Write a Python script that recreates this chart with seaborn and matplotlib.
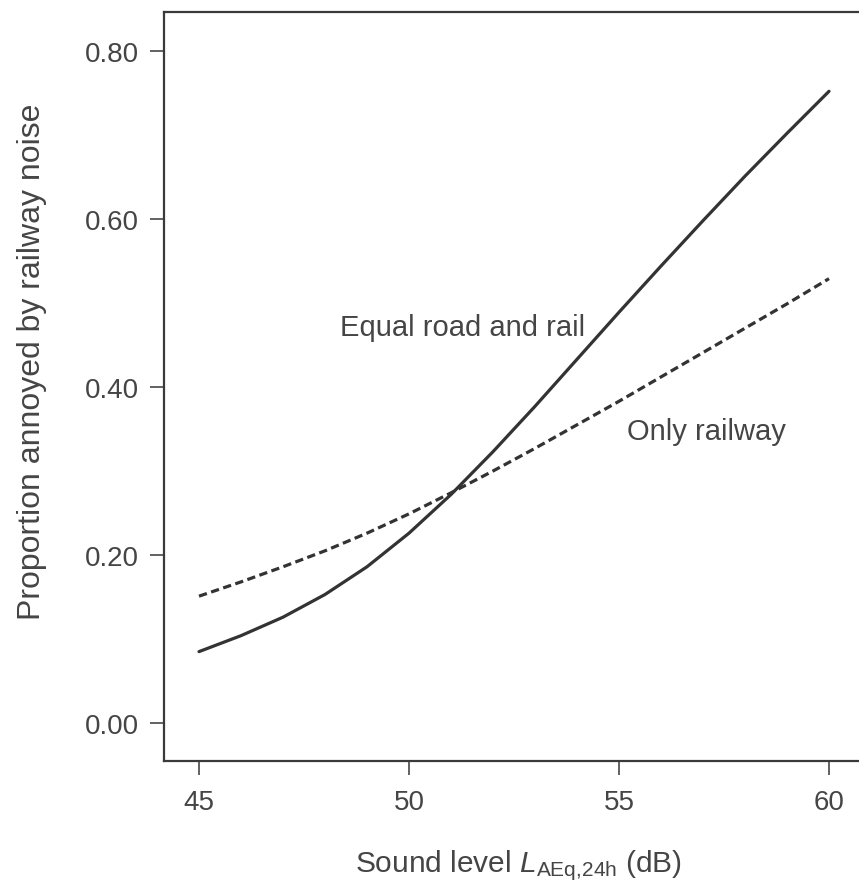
import numpy as np
import pandas as pd
import matplotlib
matplotlib.use("Agg")
import matplotlib.pyplot as plt
import seaborn as sns

# Sound level (dB) at which each curve is sampled
levels = [45, 46, 47, 48, 49, 50, 51, 52, 53, 54, 55, 56, 57, 58, 59, 60]

# Proportion annoyed: equal road and rail exposure
equal_road_rail = [0.085, 0.104, 0.126, 0.153, 0.186, 0.226, 0.272, 0.323,
                   0.377, 0.433, 0.489, 0.544, 0.598, 0.651, 0.702, 0.752]

# Proportion annoyed: railway noise only
only_railway = [0.151, 0.168, 0.186, 0.205, 0.226, 0.249, 0.274, 0.300,
                0.327, 0.355, 0.383, 0.412, 0.441, 0.470, 0.499, 0.529]

group_names = ["Equal road and rail", "Only railway"]
y_ticks = [0.00, 0.20, 0.40, 0.60, 0.80]
x_ticks = [45, 50, 55, 60]

df = pd.DataFrame({
    "level": levels * 2,
    "prop": equal_road_rail + only_railway,
    "group": [group_names[0]] * len(levels) + [group_names[1]] * len(levels),
})

sns.set_theme(style="ticks")
plt.rcParams["font.family"] = ["Liberation Sans", "DejaVu Sans"]
plt.rcParams["mathtext.fontset"] = "custom"
plt.rcParams["mathtext.rm"] = "Liberation Sans"
plt.rcParams["mathtext.it"] = "Liberation Sans:italic"

text_col = "#454545"
line_col = "#333333"

fig = plt.figure(figsize=(8.59, 8.87), dpi=100)
ax = fig.add_axes([164 / 859, 1 - 762 / 887, 1 - 164 / 859, 749 / 887])

sns.lineplot(
    data=df, x="level", y="prop", style="group",
    dashes={group_names[0]: "", group_names[1]: (2.6, 1.4)},
    color=line_col, linewidth=2.3, legend=False, ax=ax,
)

ax.set_xlim(44.1667, 60.714)
ax.set_ylim(-0.0452, 0.8464)
ax.set_xticks(x_ticks)
ax.set_xticklabels([str(v) for v in x_ticks])
ax.set_yticks(y_ticks)
ax.set_yticklabels([f"{v:.2f}" for v in y_ticks])

for side in ["left", "top", "bottom"]:
    ax.spines[side].set_visible(True)
    ax.spines[side].set_color("#3a3a3a")
    ax.spines[side].set_linewidth(1.6)
ax.spines["right"].set_visible(False)

ax.tick_params(axis="both", length=10, width=1.3, color="#555555",
               labelsize=20, labelcolor=text_col)
ax.tick_params(axis="y", pad=8)
ax.tick_params(axis="x", pad=10)

ax.set_xlabel(r"Sound level $\mathit{L}_{\mathrm{AEq{,}24h}}$ (dB)",
              fontsize=21.5, color=text_col)
ax.set_ylabel("Proportion annoyed by railway noise", fontsize=23, color=text_col)
ax.xaxis.set_label_coords(0.51, -0.116)
ax.yaxis.set_label_coords(-0.168, 0.534)

ax.text(48.36, 0.471, "Equal road and rail", fontsize=21, color=text_col,
        ha="left", va="center")
ax.text(55.19, 0.348, "Only railway", fontsize=21, color=text_col,
        ha="left", va="center")

fig.savefig("out.png", dpi=100, facecolor="white")
